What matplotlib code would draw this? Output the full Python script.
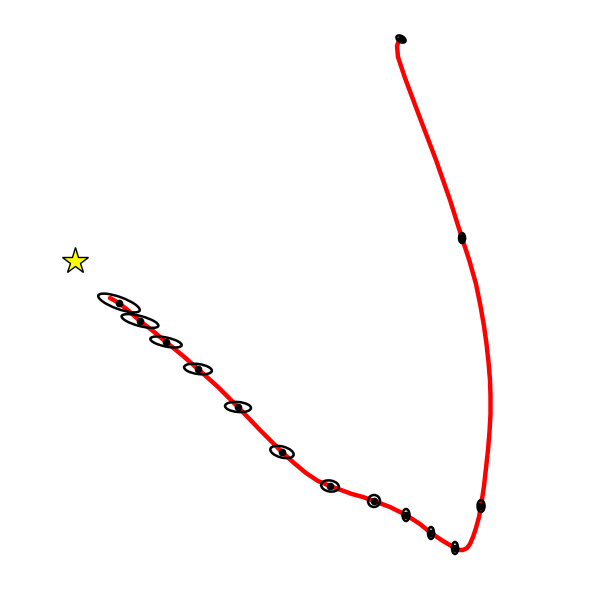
import matplotlib
matplotlib.use("Agg")
import matplotlib.pyplot as plt
from matplotlib.patches import Ellipse

# orbit track (pixel-like units, y down)
orbit_x = [110, 119, 130, 140, 153, 166, 182, 198, 218, 238, 260, 282, 294, 306,
           318, 330, 341, 352, 363, 374, 390, 406, 420, 431, 443, 455, 459, 463,
           467, 470, 473, 476, 479, 481, 484, 486, 488, 489.5, 490.5, 490.5, 490,
           488.5, 486.5, 484, 480.5, 476, 469.5, 462, 450, 436, 420, 405, 398,
           397, 399, 402]
orbit_y = [298, 303, 312, 321, 331, 342, 355, 369, 387, 407, 430, 452, 463, 473,
           481, 486, 490, 494, 497, 501, 507, 515, 524, 533, 541, 548, 550, 550,
           548, 544, 537, 528, 517, 506, 486, 468, 450, 432, 414, 396, 380,
           362, 344, 326, 306, 284, 261, 238, 200, 160, 118, 78, 57, 46, 40, 38]

# observed positions and their error ellipses
obs_x = [119, 140, 166, 198, 238, 282, 330, 374, 406, 431, 455, 481, 462, 401]
obs_y = [303, 321, 342, 369, 407, 452, 486, 501, 515, 533, 548, 506, 238, 39]
err_w = [44, 38, 32, 28, 26, 24, 18, 12, 7, 6, 6, 7, 6, 10]
err_h = [12, 10, 9, 10, 10, 11, 11, 12, 12, 12, 12, 12, 10, 6]
err_ang = [20, 15, 12, 8, 5, 15, 10, 0, 0, 0, 0, 0, 0, 30]

star_x = [75]
star_y = [261]

fig = plt.figure(figsize=(5.9, 5.9), dpi=100)
ax = fig.add_axes([0, 0, 1, 1])

ax.plot(orbit_x, orbit_y, color="red", lw=3.2, zorder=1,
        solid_joinstyle="round", solid_capstyle="round")

for x, y, w, h, a in zip(obs_x, obs_y, err_w, err_h, err_ang):
    ax.add_patch(Ellipse((x, y), w, h, angle=a, fill=False,
                         edgecolor="black", lw=1.8, zorder=2))
ax.plot(obs_x, obs_y, "o", color="black", ms=4.5, zorder=3)

ax.plot(star_x, star_y, "*", ms=20, markerfacecolor="yellow",
        markeredgecolor="black", markeredgewidth=1, zorder=4)

ax.set_xlim(0, 590)
ax.set_ylim(590, 0)
ax.set_aspect("equal")
ax.axis("off")

fig.savefig("out.png", dpi=100)
